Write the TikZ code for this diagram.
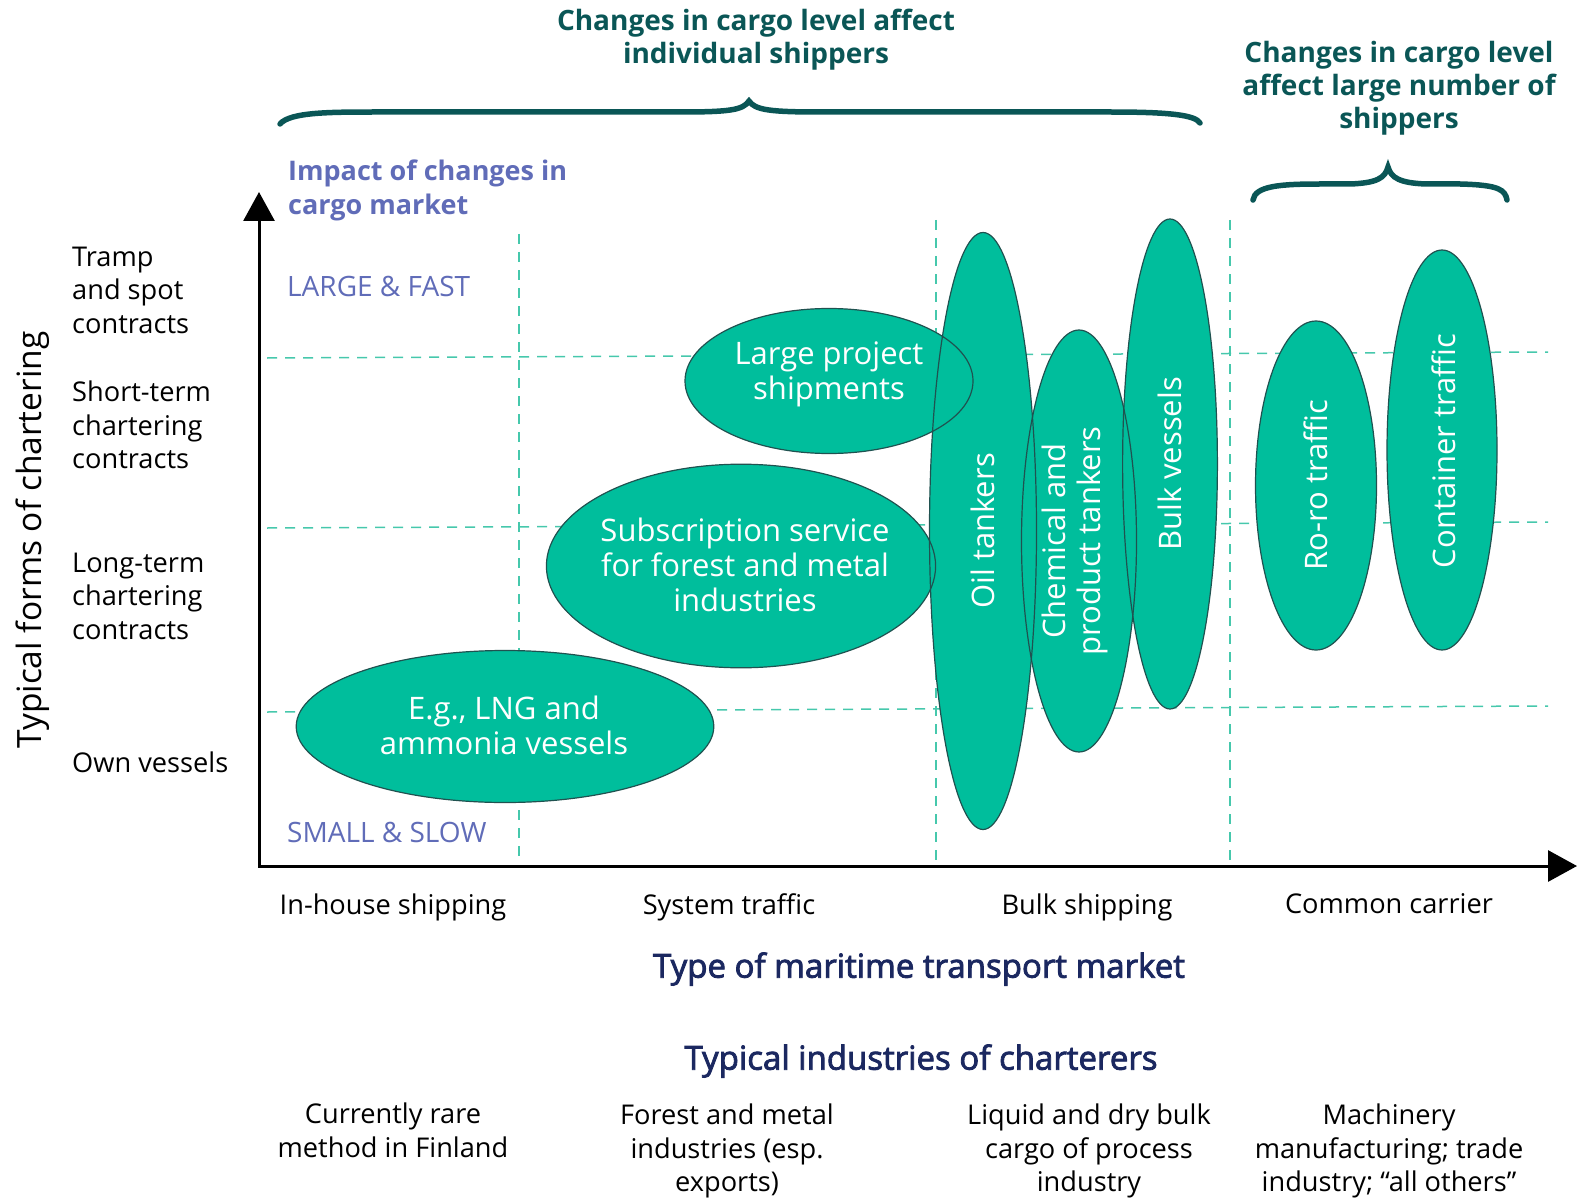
\documentclass[tikz,border=0pt]{standalone}
\usepackage{fontspec}
\setmainfont{Open Sans}
\newfontfamily\semibold[FakeBold=2.5]{Open Sans}
\usepackage{xcolor}
\usetikzlibrary{arrows.meta,shapes,positioning}

\definecolor{seagreen}{RGB}{0,190,156}
\definecolor{rimteal}{RGB}{32,82,80}
\definecolor{gridteal}{RGB}{70,200,172}
\definecolor{headteal}{RGB}{10,86,86}
\definecolor{lavender}{RGB}{96,108,184}
\definecolor{navy}{RGB}{27,40,96}

\tikzset{
    %Define style for the market ellipses
    vessel/.style={
        fill=seagreen,
    },
    rim/.style={
        draw=rimteal,
        line width=1.2pt,
    },
    inside/.style={
        text=white,
        align=center,
        inner sep=0pt,
        font=\fontsize{31}{35}\selectfont,
    },
    %Define style for the axes and grid
    axis/.style={
        line width=3pt,
        {Triangle[length=29pt,width=31pt]}-{Triangle[length=29pt,width=31pt]},
    },
    gridline/.style={
        draw=gridteal,
        line width=1.5pt,
        dash pattern=on 10pt off 8pt,
    },
    brace/.style={
        draw=headteal,
        line width=5.5pt,
        line cap=round,
    },
    %Define style for texts
    txt/.style={
        inner sep=0pt,
        align=center,
        font=\fontsize{27.2}{33.5}\selectfont,
    },
    lefttxt/.style={
        txt,
        anchor=west,
        align=left,
    },
    head/.style={
        inner sep=0pt,
        align=center,
        text=headteal,
        font=\fontsize{28}{33}\selectfont\bfseries,
    },
    extreme/.style={
        inner sep=0pt,
        anchor=west,
        text=lavender,
        font=\fontsize{28}{34}\selectfont,
    },
    axtitle/.style={
        inner sep=0pt,
        text=navy,
        font=\fontsize{33}{38}\selectfont\semibold,
    },
}

\begin{document}
\begin{tikzpicture}[x=1pt,y=-1pt]
    \useasboundingbox (0,0) rectangle (1581,1198);

    % grid
    \draw[gridline] (519,234) -- (519,862);
    \draw[gridline] (936,220) -- (936,862);
    \draw[gridline] (1230,220) -- (1230,865);
    \draw[gridline] (267,358) -- (1548,352);
    \draw[gridline] (267,528) -- (1548,522);
    \draw[gridline] (267,712) -- (1548,706);

    % fills first, then the rims on top
    \fill[vessel] (829,381) ellipse (144pt and 72.5pt);
    \fill[vessel] (741,566) ellipse (194.6pt and 101.8pt);
    \fill[vessel] (505,726.5) ellipse (208.8pt and 76pt);
    \fill[vessel] (983,531) ellipse (53.5pt and 298.5pt);
    \fill[vessel] (1079,541) ellipse (57.5pt and 211pt);
    \fill[vessel] (1170,464) ellipse (47.4pt and 245pt);
    \fill[vessel] (1316,485.5) ellipse (60.5pt and 164.5pt);
    \fill[vessel] (1442,450) ellipse (55pt and 200pt);

    \draw[rim] (829,381) ellipse (144pt and 72.5pt);
    \draw[rim] (741,566) ellipse (194.6pt and 101.8pt);
    \draw[rim] (505,726.5) ellipse (208.8pt and 76pt);
    \draw[rim] (983,531) ellipse (53.5pt and 298.5pt);
    \draw[rim] (1079,541) ellipse (57.5pt and 211pt);
    \draw[rim] (1170,464) ellipse (47.4pt and 245pt);
    \draw[rim] (1316,485.5) ellipse (60.5pt and 164.5pt);
    \draw[rim] (1442,450) ellipse (55pt and 200pt);

    \node[inside] (project) at (829,374) {Large project\\shipments};
    \node[inside] (subscr) at (745,565) {Subscription service\\for forest and metal\\industries};
    \node[inside] (lng) at (504,725) {E.g., LNG and\\ammonia vessels};
    \node[inside, rotate=90] (oil) at (983,531) {Oil tankers};
    \node[inside, rotate=90] (chem) at (1075,541) {Chemical and\\product tankers};
    \node[inside, rotate=90] (bulk) at (1170,464) {Bulk vessels};
    \node[inside, rotate=90] (roro) at (1316,485) {Ro-ro traffic};
    \node[inside, rotate=90] (cont) at (1444,451) {Container traffic};

    % axes
    \coordinate (O) at (259,866);
    \coordinate (ytip) at (259,192);
    \coordinate (xtip) at (1577,866);
    \draw[axis] (ytip) -- (O) -- (xtip);

    % braces
    \draw[brace] (280,124) .. controls (290,112) and (330,112) .. (380,112)
        -- (680,112) .. controls (730,112) and (743,110) .. (749,101)
        .. controls (755,110) and (770,112) .. (820,112)
        -- (1110,112) .. controls (1170,112) and (1195,115) .. (1200,123);
    \draw[brace] (1253,200) .. controls (1255,186) and (1280,184) .. (1320,184)
        -- (1350,184) .. controls (1377,183) and (1385,178) .. (1388,167)
        .. controls (1391,178) and (1400,183) .. (1426,184)
        -- (1460,184) .. controls (1500,185) and (1505,190) .. (1507,200);

    % headings
    \node[head] (hindiv) at (756,40) {Changes in cargo level affect\\individual shippers};
    \node[head] (hlarge) at (1399,88) {Changes in cargo level\\affect large number of\\shippers};
    \node[head, text=lavender, anchor=west, align=left, font=\fontsize{27}{34}\selectfont\bfseries] (impact) at (288,190) {Impact of changes in\\cargo market};
    \node[extreme] (fast) at (287,286) {LARGE \& FAST};
    \node[extreme] (slow) at (287,832) {SMALL \& SLOW};

    % chartering forms
    \node[txt, rotate=90, font=\fontsize{33.5}{38}\selectfont] (forms) at (33,540) {Typical forms of chartering};
    \node[lefttxt] (tramp) at (72,290) {Tramp\\and spot\\contracts};
    \node[lefttxt] (short) at (72,425) {Short-term\\chartering\\contracts};
    \node[lefttxt] (long) at (72,596) {Long-term\\chartering\\contracts};
    \node[lefttxt] (own) at (72,762) {Own vessels};

    % market types
    \node[txt] (inhouse) at (393,907) {In-house shipping};
    \node[txt] (system) at (729,907) {System traffic};
    \node[txt] (bulkship) at (1087,907) {Bulk shipping};
    \node[txt] (common) at (1389,904) {Common carrier};
    \node[axtitle] (market) at (919,969) {Type of maritime transport market};

    % charterer industries
    \node[axtitle] (industries) at (921,1061) {Typical industries of charterers};
    \node[txt] (rare) at (393,1130.5) {Currently rare\\method in Finland};
    \node[txt] (forest) at (727,1151) {Forest and metal\\industries (esp.\\exports)};
    \node[txt] (liquid) at (1089,1151) {Liquid and dry bulk\\cargo of process\\industry};
    \node[txt] (machinery) at (1389,1151) {Machinery\\manufacturing; trade\\industry; “all others”};
\end{tikzpicture}
\end{document}
